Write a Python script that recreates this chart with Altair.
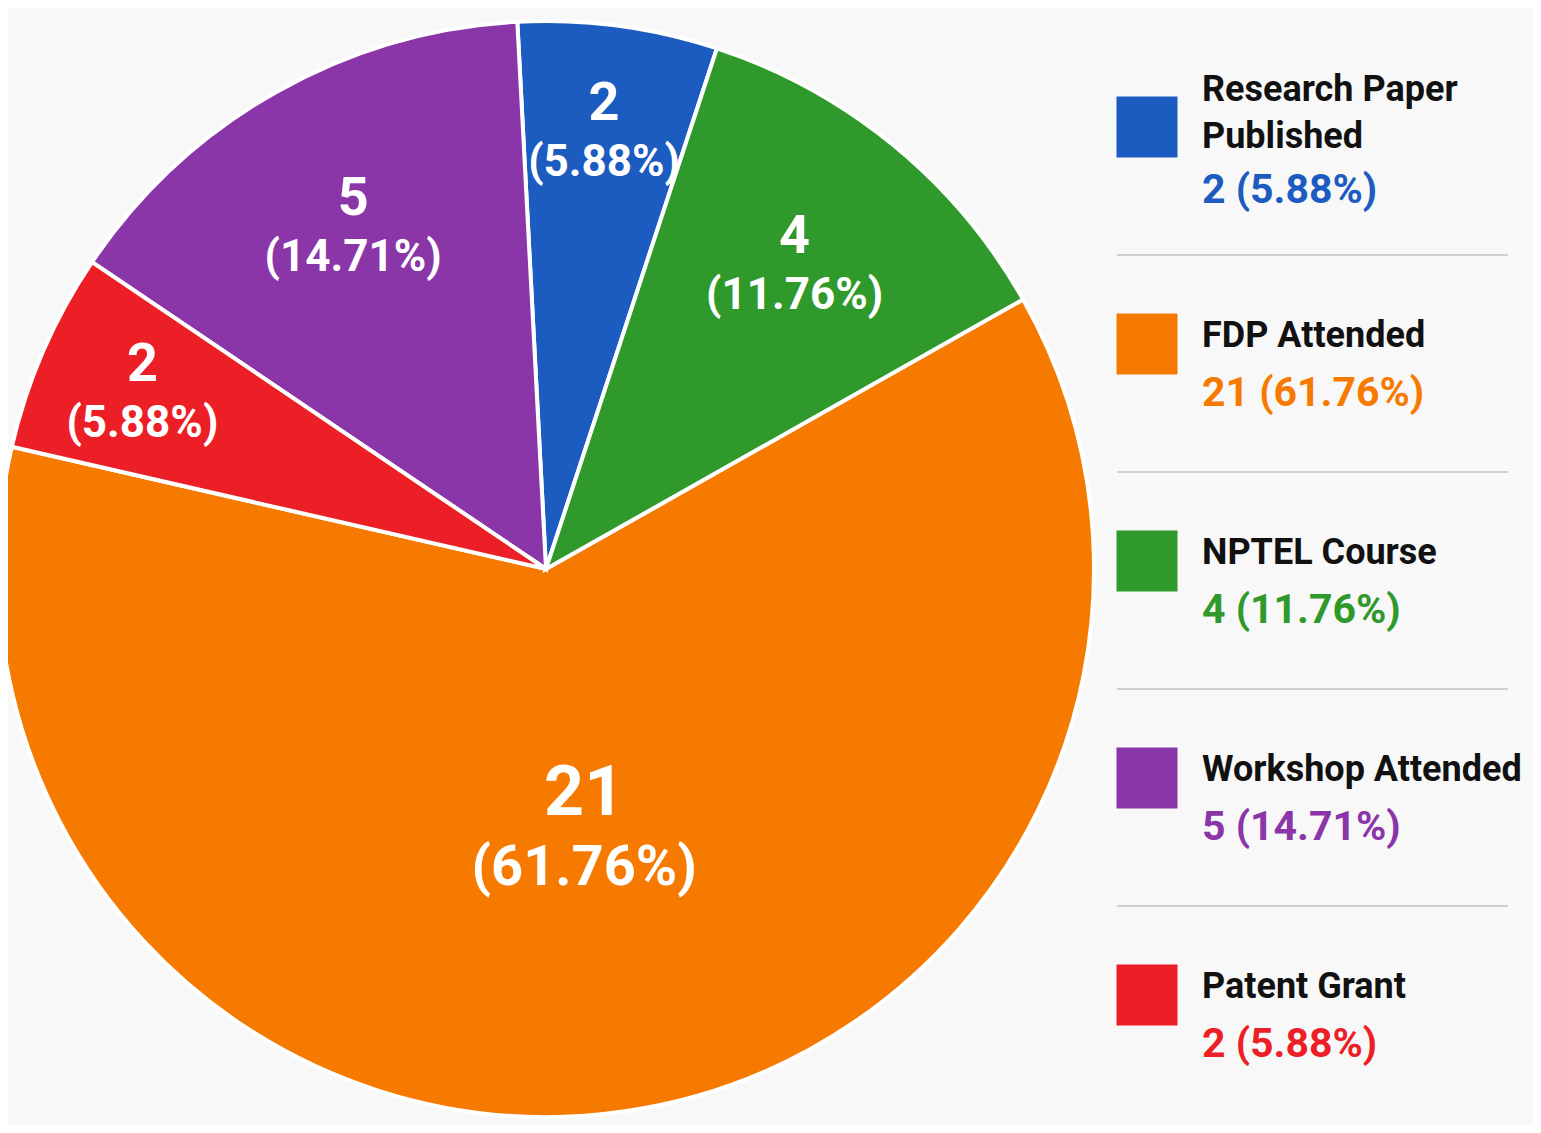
import math
import altair as alt
import pandas as pd

# ---- data ----
categories = ["Research Paper Published", "FDP Attended", "NPTEL Course",
              "Workshop Attended", "Patent Grant"]
legend_names = ["Research Paper\nPublished", "FDP Attended", "NPTEL Course",
                "Workshop Attended", "Patent Grant"]
counts = [2, 21, 4, 5, 2]
percents = [5.88, 61.76, 11.76, 14.71, 5.88]
clockwise_rank = [0, 2, 1, 4, 3]  # slice order going clockwise from 12 o'clock
colors = ["#1c5bbf", "#f77a00", "#2f9a2b", "#8a35a8", "#eb1f25"]

df = pd.DataFrame({
    "category": categories,
    "name": legend_names,
    "count": counts,
    "pct": percents,
    "rank": clockwise_rank,
})
df["count_label"] = df["count"].astype(str)
df["pct_label"] = [f"({p:.2f}%)" for p in percents]
df["legend_value"] = [f"{c} ({p:.2f}%)" for c, p in zip(counts, percents)]
df["lines"] = [n.count("\n") + 1 for n in legend_names]

FONT = "Roboto, Liberation Sans, sans-serif"
START = math.radians(-3)
CX, CY, R = 538, 561, 548

color_scale = alt.Scale(domain=categories, range=colors)
theta_scale = alt.Scale(range=[START, START + 2 * math.pi])

base = alt.Chart(df).encode(
    theta=alt.Theta("count:Q", stack=True, scale=theta_scale),
    order=alt.Order("rank:Q", sort="ascending"),
    x=alt.value(CX),
    y=alt.value(CY),
)

arcs = base.mark_arc(outerRadius=R, stroke="white", strokeWidth=4).encode(
    color=alt.Color("category:N", scale=color_scale, legend=None)
)


def pie_text(test, field, size, dy, radius):
    return base.transform_calculate(
        shown=f"({test}) ? datum.{field} : ''"
    ).mark_text(
        font=FONT, fontWeight="bold", fontSize=size, color="white",
        dy=dy, align="center", baseline="middle", radius=radius,
    ).encode(
        text=alt.Text("shown:N"),
        detail=alt.Detail("category:N"),
    )


small = "datum.count <= 3"
mid = "datum.count > 3 && datum.count <= 10"
big = "datum.count > 10"

labels = [
    pie_text(small, "count_label", 54, -29, 440),
    pie_text(small, "pct_label", 44, 30, 440),
    pie_text(mid, "count_label", 54, -29, 392),
    pie_text(mid, "pct_label", 44, 30, 392),
    pie_text(big, "count_label", 70, -37, 265),
    pie_text(big, "pct_label", 56, 37, 265),
]

leg = alt.Chart(df).transform_calculate(
    name_one="datum.lines == 1 ? datum.name : ''",
    name_two="datum.lines > 1 ? datum.name : ''",
    value_one="datum.lines == 1 ? datum.legend_value : ''",
    value_two="datum.lines > 1 ? datum.legend_value : ''",
).encode(
    y=alt.Y("category:N", sort=categories, axis=None,
            scale=alt.Scale(range=[10.5, 1095.5], paddingInner=0, paddingOuter=0)),
)

squares = leg.mark_square(size=3720, opacity=1).encode(
    x=alt.value(1139),
    color=alt.Color("category:N", scale=color_scale, legend=None),
)


def legend_name(field, dy):
    return leg.mark_text(
        font=FONT, fontWeight="bold", fontSize=36, color="#111111",
        align="left", baseline="middle", dy=dy, lineBreak="\n", lineHeight=47,
    ).encode(x=alt.value(1194), text=alt.Text(f"{field}:N"))


def legend_value(field, dy):
    return leg.mark_text(
        font=FONT, fontWeight="bold", fontSize=41, align="left",
        baseline="middle", dy=dy,
    ).encode(
        x=alt.value(1194), text=alt.Text(f"{field}:N"),
        color=alt.Color("category:N", scale=color_scale, legend=None),
    )


rules = leg.transform_filter(
    alt.datum.category != categories[-1]
).mark_rule(yOffset=128, color="#d0d0d0", strokeWidth=2).encode(
    x=alt.value(1109), x2=alt.value(1500),
)

chart = alt.layer(
    arcs, *labels, rules, squares,
    legend_name("name_one", -8), legend_name("name_two", -37),
    legend_value("value_one", 50), legend_value("value_two", 64),
).properties(
    width=1525, height=1117,
    autosize=alt.AutoSizeParams(type="none"),
    padding=0,
    background="#f8f8f8",
).configure_view(stroke=None)

chart.save("out.html", embed_options={"renderer": "svg", "actions": False})
